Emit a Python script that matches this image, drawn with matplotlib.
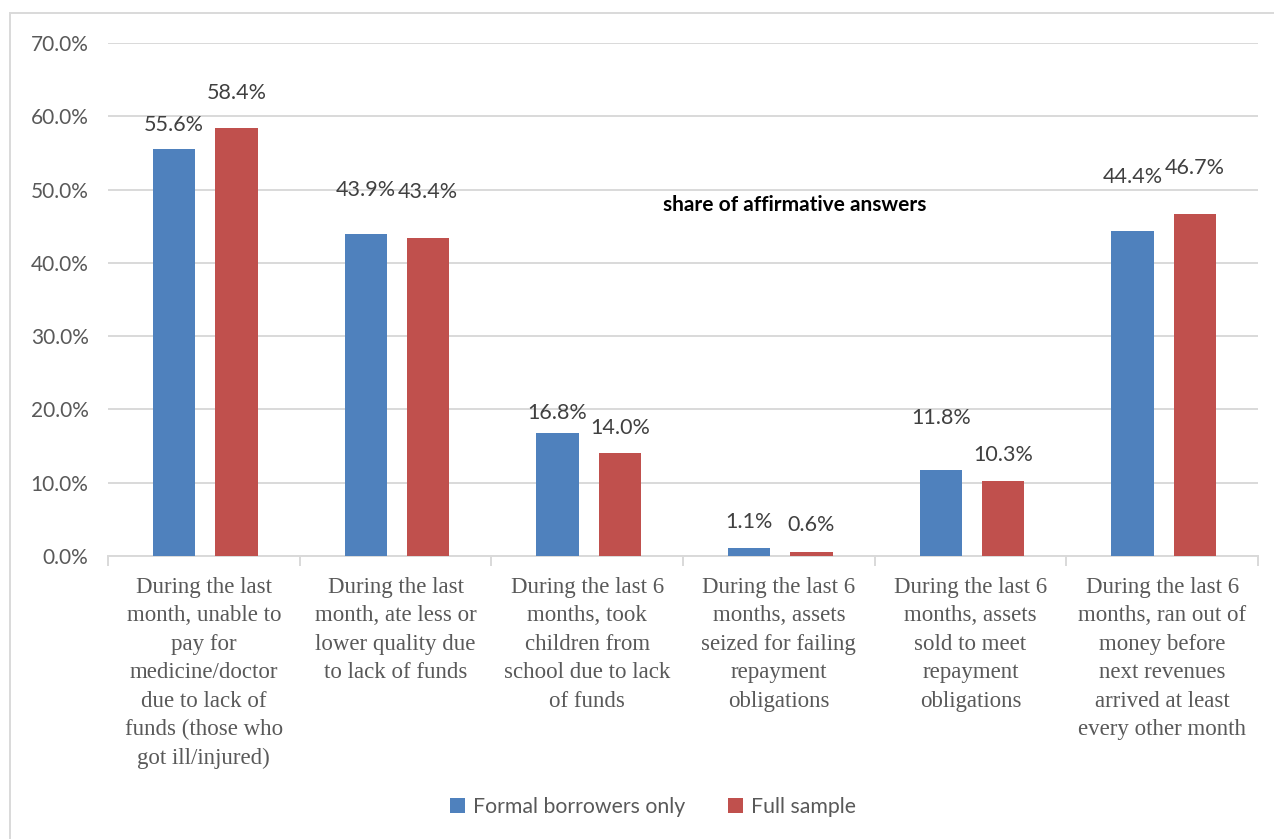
import matplotlib
matplotlib.use("Agg")
import matplotlib.pyplot as plt
import matplotlib.patches as mpatches
import numpy as np

categories = [
    "During the last\nmonth, unable to\npay for\nmedicine/doctor\ndue to lack of\nfunds (those who\ngot ill/injured)",
    "During the last\nmonth, ate less or\nlower quality due\nto lack of funds",
    "During the last 6\nmonths, took\nchildren from\nschool due to lack\nof funds",
    "During the last 6\nmonths, assets\nseized for failing\nrepayment\nobligations",
    "During the last 6\nmonths, assets\nsold to meet\nrepayment\nobligations",
    "During the last 6\nmonths, ran out of\nmoney before\nnext revenues\narrived at least\nevery other month",
]
formal = [0.556, 0.439, 0.168, 0.011, 0.118, 0.444]
full = [0.584, 0.434, 0.140, 0.006, 0.103, 0.467]
# label lift above bar tops (as in the original, labels were nudged by hand)
formal_lift = [0.032, 0.060, 0.027, 0.035, 0.070, 0.073]
full_lift = [0.048, 0.063, 0.035, 0.036, 0.035, 0.062]

blue = "#4F81BD"
red = "#C0504D"
grid_c = "#D9D9D9"
tick_c = "#595959"
lab_c = "#404040"
sans = ["Lato", "DejaVu Sans"]
serif = ["Liberation Serif", "DejaVu Serif"]

fig = plt.figure(figsize=(12.74, 8.39), dpi=100)
ax = fig.add_axes([108 / 1274, 1 - 556 / 839, (1258 - 108) / 1274, (556 - 43) / 839])

x = np.arange(len(categories))
w = 0.22
ax.bar(x - 0.155, formal, w, color=blue, label="Formal borrowers only", zorder=3)
ax.bar(x + 0.17, full, w, color=red, label="Full sample", zorder=3)

for i in range(len(x)):
    ax.text(x[i] - 0.155, formal[i] + formal_lift[i], f"{formal[i]*100:.1f}%",
            ha="center", va="center", fontsize=15.5, color=lab_c, family=sans)
    ax.text(x[i] + 0.17, full[i] + full_lift[i], f"{full[i]*100:.1f}%",
            ha="center", va="center", fontsize=15.5, color=lab_c, family=sans)

ax.set_xlim(-0.5, len(x) - 0.5)
ax.set_ylim(0, 0.7)
ax.set_yticks(np.arange(0, 0.71, 0.1))
ax.set_yticklabels([f"{v*100:.1f}%" for v in np.arange(0, 0.71, 0.1)],
                   fontsize=15, color=tick_c, family=sans)
ax.tick_params(axis="y", length=0, pad=14)
ax.yaxis.grid(True, color=grid_c, lw=1.4, zorder=0)
ax.set_axisbelow(True)
for s in ["top", "right", "left"]:
    ax.spines[s].set_visible(False)
ax.spines["bottom"].set_color(grid_c)
ax.spines["bottom"].set_linewidth(1.4)

ax.set_xticks(np.arange(-0.5, len(x), 1.0))
ax.set_xticklabels([])
ax.tick_params(axis="x", length=7, color=grid_c, width=1.4)
for i, c in enumerate(categories):
    ax.text(x[i], -0.028, c, ha="center", va="top", fontsize=16.5, color=tick_c,
            family=serif, linespacing=1.47)

ax.text(0.597, 0.684, "share of affirmative answers", transform=ax.transAxes,
        ha="center", va="center", fontsize=15, fontweight="bold", color="black",
        family=sans)

leg = fig.legend(loc="center", bbox_to_anchor=(653 / 1274, 1 - 807 / 839), ncol=2,
                 frameon=False, handlelength=0.7, handleheight=0.7, columnspacing=2.0,
                 handletextpad=0.4, prop={"family": sans, "size": 15.3})
for t in leg.get_texts():
    t.set_color(tick_c)

border = mpatches.Rectangle((10 / 1274, -0.05), 1.2, 1 - 13 / 839 + 0.05,
                            transform=fig.transFigure, fill=False,
                            edgecolor=grid_c, lw=1.4)
fig.patches.append(border)

fig.savefig("out.png", dpi=100)
